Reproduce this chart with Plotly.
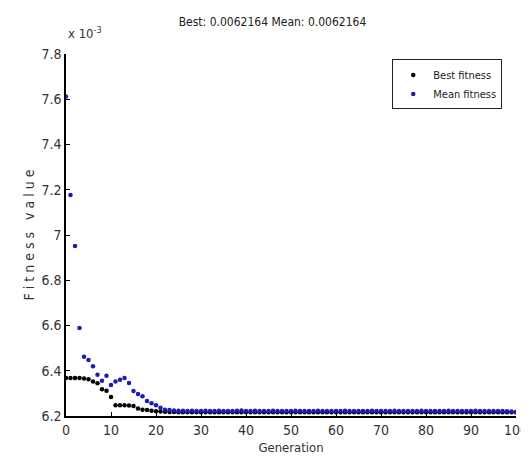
import plotly.graph_objects as go

# Values in units of 1e-3 (axis shows "x 10^-3")
generations = list(range(0, 101))

best_fitness = [
    6.368, 6.368, 6.368, 6.368, 6.366, 6.362, 6.352, 6.345, 6.318, 6.312,
    6.284, 6.248, 6.247, 6.247, 6.246, 6.244, 6.233, 6.228, 6.226, 6.223,
    6.221, 6.220, 6.219, 6.218, 6.218, 6.217, 6.217, 6.217, 6.217, 6.217,
    6.217, 6.217, 6.217, 6.217, 6.217, 6.217, 6.217, 6.217, 6.217, 6.217,
    6.217, 6.217, 6.217, 6.217, 6.217, 6.217, 6.217, 6.217, 6.217, 6.217,
    6.217, 6.217, 6.217, 6.217, 6.217, 6.217, 6.217, 6.217, 6.217, 6.217,
    6.217, 6.217, 6.217, 6.217, 6.217, 6.217, 6.217, 6.217, 6.217, 6.217,
    6.217, 6.217, 6.217, 6.217, 6.217, 6.217, 6.217, 6.217, 6.217, 6.217,
    6.217, 6.217, 6.217, 6.217, 6.217, 6.217, 6.217, 6.217, 6.217, 6.217,
    6.217, 6.217, 6.217, 6.217, 6.217, 6.217, 6.217, 6.217, 6.217, 6.217,
    6.2164,
]

mean_fitness = [
    7.612, 7.177, 6.951, 6.589, 6.462, 6.447, 6.420, 6.382, 6.356, 6.378,
    6.337, 6.352, 6.360, 6.368, 6.346, 6.310, 6.297, 6.287, 6.266, 6.256,
    6.248, 6.236, 6.228, 6.226, 6.224, 6.223, 6.223, 6.222, 6.223, 6.222,
    6.222, 6.223, 6.222, 6.222, 6.223, 6.222, 6.222, 6.222, 6.223, 6.224,
    6.222, 6.222, 6.223, 6.222, 6.222, 6.222, 6.223, 6.222, 6.222, 6.222,
    6.222, 6.223, 6.222, 6.222, 6.222, 6.222, 6.223, 6.222, 6.222, 6.222,
    6.222, 6.222, 6.223, 6.222, 6.222, 6.222, 6.222, 6.222, 6.223, 6.222,
    6.222, 6.222, 6.222, 6.223, 6.222, 6.222, 6.222, 6.222, 6.222, 6.223,
    6.222, 6.222, 6.222, 6.222, 6.222, 6.223, 6.222, 6.222, 6.222, 6.222,
    6.222, 6.223, 6.222, 6.222, 6.222, 6.222, 6.222, 6.222, 6.221, 6.220,
    6.2164,
]

x_ticks = [0, 10, 20, 30, 40, 50, 60, 70, 80, 90, 100]
y_ticks = [6.2, 6.4, 6.6, 6.8, 7.0, 7.2, 7.4, 7.6, 7.8]
y_tick_labels = ["6.2", "6.4", "6.6", "6.8", "7", "7.2", "7.4", "7.6", "7.8"]

title_text = "Best: 0.0062164 Mean: 0.0062164"

FONT = "Liberation Sans Narrow, DejaVu Sans Condensed, Liberation Sans, sans-serif"

fig = go.Figure()
fig.add_trace(go.Scatter(
    x=generations, y=best_fitness, mode="markers", name="Best fitness",
    marker=dict(color="#000000", size=4.5, symbol="circle"),
))
fig.add_trace(go.Scatter(
    x=generations, y=mean_fitness, mode="markers", name="Mean fitness",
    marker=dict(color="#1c1cb4", size=4.5, symbol="circle"),
))

fig.update_layout(
    width=529, height=460,
    margin=dict(l=58, r=9, t=46, b=52),
    paper_bgcolor="white", plot_bgcolor="white",
    font=dict(family=FONT, color="#333333", size=14),
    title=dict(text=title_text, x=0.5, xanchor="center", y=1 - 14 / 460,
               yanchor="middle", font=dict(family=FONT, size=12, color="#222222")),
    showlegend=True,
    legend=dict(x=0.725, y=0.985, xanchor="left", yanchor="top",
                bordercolor="#222222", borderwidth=1, bgcolor="white",
                font=dict(family=FONT, size=11, color="#222222"),
                itemwidth=30, tracegroupgap=4),
    xaxis=dict(range=[0, 100], tickvals=x_ticks, ticks="inside", ticklen=4,
               tickcolor="black", showline=True, linecolor="black", linewidth=1.5,
               showgrid=False, zeroline=False, mirror=False,
               ticklabeloverflow="allow",
               title=dict(text="Generation", font=dict(family=FONT, size=13, color="#333333"),
                          standoff=6)),
    yaxis=dict(range=[6.2, 7.8], tickvals=y_ticks, ticktext=y_tick_labels,
               ticks="inside", ticklen=4, tickcolor="black", showline=True,
               linecolor="black", linewidth=1.5, showgrid=False, zeroline=False,
               mirror=False,
               title=dict(text="F i t n e s s   v a l u e",
                          font=dict(family=FONT, size=14, color="#333333"), standoff=4)),
)

fig.add_annotation(xref="paper", yref="paper", x=0.0, y=1.03, xanchor="left",
                   yanchor="bottom", showarrow=False,
                   text="x 10<sup>-3</sup>",
                   font=dict(family=FONT, size=13, color="#333333"))

fig.write_html("out.html")
